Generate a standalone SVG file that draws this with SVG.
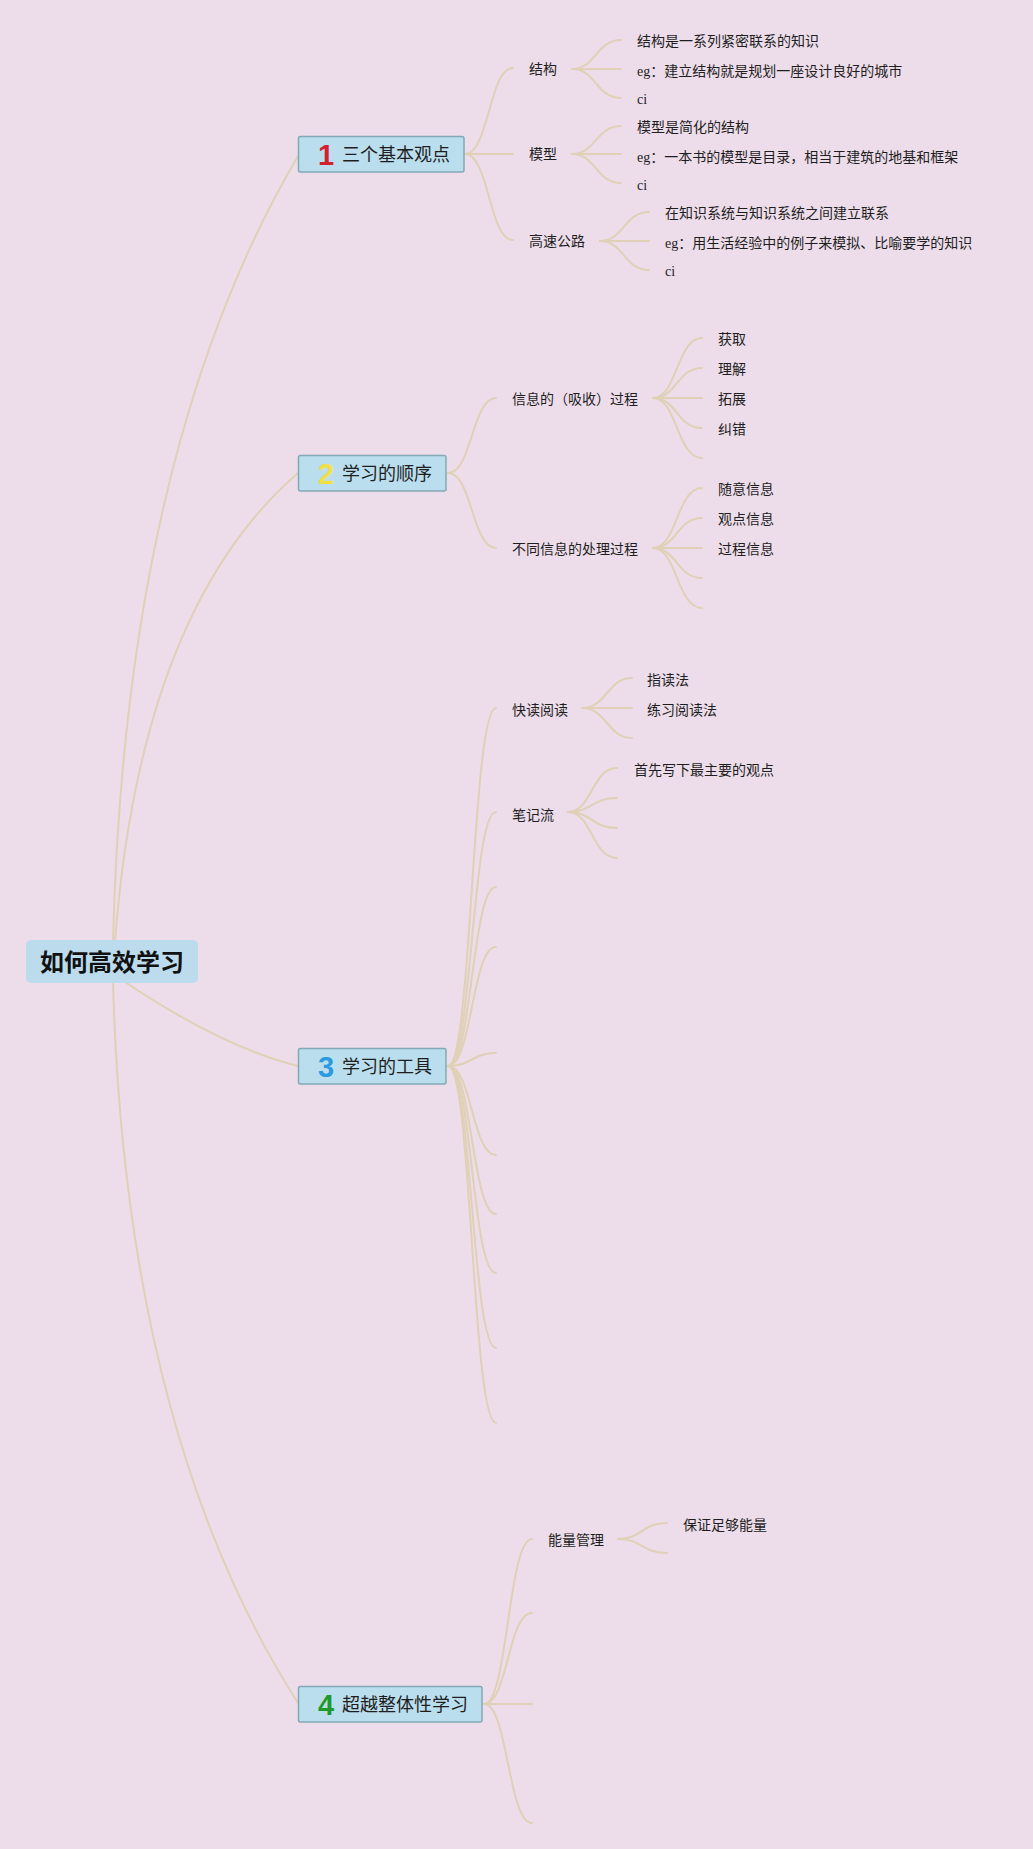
<svg xmlns="http://www.w3.org/2000/svg" width="1033" height="1849" viewBox="0 0 1033 1849">
<style>
.conn{fill:none;stroke:#DFD0B6;stroke-width:2;stroke-linecap:round}
.box{fill:#BBDEEE;stroke:#82A9B5;stroke-width:1.5}
.rootbox{fill:#BCDCEE}
.t{font-family:"Noto Sans CJK SC","Liberation Sans",sans-serif;fill:#1e1e1e}
.t0{font-size:24px;font-weight:bold;fill:#111}
.t1{font-size:18px}
.t2{font-size:14px}
.se{font-family:"Liberation Serif","Noto Serif CJK SC",serif}
.num{font-family:"Liberation Sans",Arial,sans-serif;font-size:29px;font-weight:bold;text-anchor:middle}
</style>
<rect x="0" y="0" width="1033" height="1849" fill="#EDDDEA"/>
<g id="connectors">
  <!-- root to main topics -->
  <path class="conn" d="M113 942 Q125 450 298 156"/>
  <path class="conn" d="M115 942 Q140 610 298 473"/>
  <path class="conn" d="M125 982 Q222 1047 298 1066"/>
  <path class="conn" d="M113 982 Q125 1432 298 1703"/>
  <!-- topic 1 -->
  <path class="conn" d="M465 154 C489 154 489 68 513 68"/>
  <path class="conn" d="M465 154 L513 154"/>
  <path class="conn" d="M465 154 C489 154 489 240 513 240"/>
  <path class="conn" d="M572 69 C596 69 596 40 621 40"/>
  <path class="conn" d="M572 69 L621 69"/>
  <path class="conn" d="M572 69 C596 69 596 98 621 98"/>
  <path class="conn" d="M572 154 C596 154 596 126 621 126"/>
  <path class="conn" d="M572 154 L621 154"/>
  <path class="conn" d="M572 154 C596 154 596 183 621 183"/>
  <path class="conn" d="M600 241 C624 241 624 212 649 212"/>
  <path class="conn" d="M600 241 L649 241"/>
  <path class="conn" d="M600 241 C624 241 624 270 649 270"/>
  <!-- topic 2 -->
  <path class="conn" d="M448 473 C472 473 472 398 496 398"/>
  <path class="conn" d="M448 473 C472 473 472 548 496 548"/>
  <path class="conn" d="M653 398 C677 398 677 338 702 338"/>
  <path class="conn" d="M653 398 C677 398 677 368 702 368"/>
  <path class="conn" d="M653 398 L702 398"/>
  <path class="conn" d="M653 398 C677 398 677 428 702 428"/>
  <path class="conn" d="M653 398 C677 398 677 458 702 458"/>
  <path class="conn" d="M653 548 C677 548 677 488 702 488"/>
  <path class="conn" d="M653 548 C677 548 677 518 702 518"/>
  <path class="conn" d="M653 548 L702 548"/>
  <path class="conn" d="M653 548 C677 548 677 578 702 578"/>
  <path class="conn" d="M653 548 C677 548 677 608 702 608"/>
  <!-- topic 3 -->
  <path class="conn" d="M448 1066 C472 1066 472 708 496 708"/>
  <path class="conn" d="M448 1066 C472 1066 472 812 496 812"/>
  <path class="conn" d="M448 1066 C472 1066 472 887 496 887"/>
  <path class="conn" d="M448 1066 C472 1066 472 947 496 947"/>
  <path class="conn" d="M448 1066 C472 1066 472 1053 496 1053"/>
  <path class="conn" d="M448 1066 C472 1066 472 1155 496 1155"/>
  <path class="conn" d="M448 1066 C472 1066 472 1214 496 1214"/>
  <path class="conn" d="M448 1066 C472 1066 472 1273 496 1273"/>
  <path class="conn" d="M448 1066 C472 1066 472 1348 496 1348"/>
  <path class="conn" d="M448 1066 C472 1066 472 1423 496 1423"/>
  <path class="conn" d="M582 708 C607 708 607 678 632 678"/>
  <path class="conn" d="M582 708 L632 708"/>
  <path class="conn" d="M582 708 C607 708 607 738 632 738"/>
  <path class="conn" d="M568 812 C592 812 592 768 617 768"/>
  <path class="conn" d="M568 812 C592 812 592 798 617 798"/>
  <path class="conn" d="M568 812 C592 812 592 828 617 828"/>
  <path class="conn" d="M568 812 C592 812 592 858 617 858"/>
  <!-- topic 4 -->
  <path class="conn" d="M484 1704 C508 1704 508 1539 532 1539"/>
  <path class="conn" d="M484 1704 C508 1704 508 1613 532 1613"/>
  <path class="conn" d="M484 1704 L532 1704"/>
  <path class="conn" d="M484 1704 C508 1704 508 1823 532 1823"/>
  <path class="conn" d="M618 1539 C642 1539 642 1523 667 1523"/>
  <path class="conn" d="M618 1539 C642 1539 642 1553 667 1553"/>
</g>
<g id="root">
  <rect class="rootbox" x="26" y="940" width="172" height="43" rx="5"/>
  <text class="t t0" x="112" y="970.5" text-anchor="middle">如何高效学习</text>
</g>
<g id="topic1">
  <rect class="box" x="298.5" y="136.5" width="165.5" height="35.5" rx="2"/>
  <text class="num" x="326" y="164.5" fill="#D61F2C">1</text>
  <text class="t t1" x="342" y="160.5">三个基本观点</text>
</g>
<g id="topic2">
  <rect class="box" x="298.5" y="455.5" width="147.5" height="35.5" rx="2"/>
  <text class="num" x="326" y="483.5" fill="#F2DF45">2</text>
  <text class="t t1" x="342" y="479.5">学习的顺序</text>
</g>
<g id="topic3">
  <rect class="box" x="298.5" y="1048.5" width="147.5" height="35.5" rx="2"/>
  <text class="num" x="326" y="1076.5" fill="#2A9BDF">3</text>
  <text class="t t1" x="342" y="1072.5">学习的工具</text>
</g>
<g id="topic4">
  <rect class="box" x="298.5" y="1686.5" width="183.5" height="35.5" rx="2"/>
  <text class="num" x="326" y="1714.5" fill="#1E9A2C">4</text>
  <text class="t t1" x="342" y="1710.5">超越整体性学习</text>
</g>
<g id="sub1">
  <text class="t t2" x="529" y="74">结构</text>
  <text class="t t2" x="637" y="46">结构是一系列紧密联系的知识</text>
  <text class="t t2" x="637" y="76"><tspan class="se">eg</tspan>：建立结构就是规划一座设计良好的城市</text>
  <text class="t t2 se" x="637" y="104">ci</text>
  <text class="t t2" x="529" y="159">模型</text>
  <text class="t t2" x="637" y="132">模型是简化的结构</text>
  <text class="t t2" x="637" y="162"><tspan class="se">eg</tspan>：一本书的模型是目录，相当于建筑的地基和框架</text>
  <text class="t t2 se" x="637" y="190">ci</text>
  <text class="t t2" x="529" y="246">高速公路</text>
  <text class="t t2" x="665" y="218">在知识系统与知识系统之间建立联系</text>
  <text class="t t2" x="665" y="248"><tspan class="se">eg</tspan>：用生活经验中的例子来模拟、比喻要学的知识</text>
  <text class="t t2 se" x="665" y="276">ci</text>
</g>
<g id="sub2">
  <text class="t t2" x="512" y="403.5">信息的（吸收）过程</text>
  <text class="t t2" x="718" y="344">获取</text>
  <text class="t t2" x="718" y="374">理解</text>
  <text class="t t2" x="718" y="404">拓展</text>
  <text class="t t2" x="718" y="434">纠错</text>
  <text class="t t2" x="512" y="553.5">不同信息的处理过程</text>
  <text class="t t2" x="718" y="494">随意信息</text>
  <text class="t t2" x="718" y="524">观点信息</text>
  <text class="t t2" x="718" y="554">过程信息</text>
</g>
<g id="sub3">
  <text class="t t2" x="512" y="715">快读阅读</text>
  <text class="t t2" x="647" y="685">指读法</text>
  <text class="t t2" x="647" y="715">练习阅读法</text>
  <text class="t t2" x="512" y="820">笔记流</text>
  <text class="t t2" x="634" y="775">首先写下最主要的观点</text>
</g>
<g id="sub4">
  <text class="t t2" x="548" y="1545">能量管理</text>
  <text class="t t2" x="683" y="1530">保证足够能量</text>
</g>
</svg>
